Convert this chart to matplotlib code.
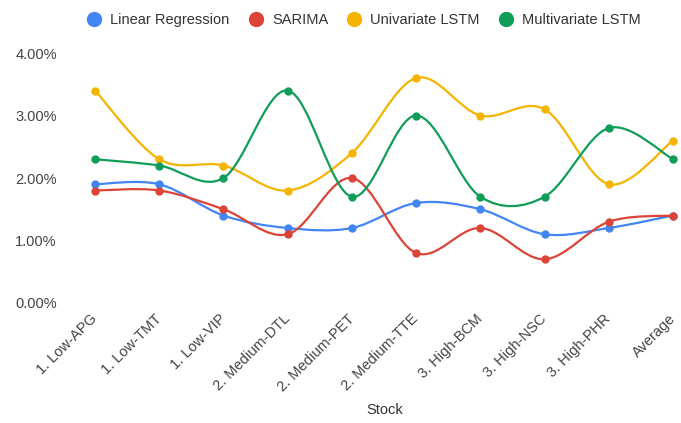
import matplotlib
matplotlib.use("Agg")
import matplotlib.pyplot as plt
import matplotlib.transforms as mtransforms
from matplotlib.path import Path
from matplotlib.patches import PathPatch
from matplotlib.lines import Line2D

plt.rcParams['font.family'] = ['Liberation Sans', 'DejaVu Sans']

stocks = ["1. Low-APG", "1. Low-TMT", "1. Low-VIP", "2. Medium-DTL", "2. Medium-PET",
          "2. Medium-TTE", "3. High-BCM", "3. High-NSC", "3. High-PHR", "Average"]
linear_reg = [1.9, 1.9, 1.4, 1.2, 1.2, 1.6, 1.5, 1.1, 1.2, 1.4]
sarima = [1.8, 1.8, 1.5, 1.1, 2.0, 0.8, 1.2, 0.7, 1.3, 1.4]
uni_lstm = [3.4, 2.3, 2.2, 1.8, 2.4, 3.6, 3.0, 3.1, 1.9, 2.6]
multi_lstm = [2.3, 2.2, 2.0, 3.4, 1.7, 3.0, 1.7, 1.7, 2.8, 2.3]
y_ticks = [0, 1, 2, 3, 4]

series = [("Linear Regression", linear_reg, "#4285F4"),
          ("SARIMA", sarima, "#DB4437"),
          ("Univariate LSTM", uni_lstm, "#F4B400"),
          ("Multivariate LSTM", multi_lstm, "#0F9D58")]


def smooth_path(xs, ys):
    # catmull-rom through the points, as cubic bezier segments
    verts = [(xs[0], ys[0])]
    codes = [Path.MOVETO]
    n = len(xs)
    for i in range(n - 1):
        x0, y0 = xs[max(i - 1, 0)], ys[max(i - 1, 0)]
        x1, y1 = xs[i], ys[i]
        x2, y2 = xs[i + 1], ys[i + 1]
        x3, y3 = xs[min(i + 2, n - 1)], ys[min(i + 2, n - 1)]
        c1 = (x1 + (x2 - x0) / 6, y1 + (y2 - y0) / 6)
        c2 = (x2 - (x3 - x1) / 6, y2 - (y3 - y1) / 6)
        verts += [c1, c2, (x2, y2)]
        codes += [Path.CURVE4] * 3
    return Path(verts, codes)


fig = plt.figure(figsize=(6.81, 4.23), dpi=100)
ax = fig.add_axes([79 / 681, 120 / 423, 602 / 681, 250 / 423])

x = list(range(len(stocks)))
handles = []
for name, vals, color in series:
    ax.add_patch(PathPatch(smooth_path(x, vals), facecolor='none', edgecolor=color,
                           lw=1.6, capstyle='round', joinstyle='round'))
    ax.plot(x, vals, 'o', color=color, markersize=5, zorder=3)
    handles.append(Line2D([], [], marker='o', ls='none', color=color, markersize=10, label=name))

ax.set_xlim(-0.25, 9.125)
ax.set_ylim(0, 4)
ax.set_yticks(y_ticks)
ax.set_yticklabels(["%.2f%%" % v for v in y_ticks])
ax.set_xticks(x)
ax.set_xticklabels(stocks, rotation=45, ha='right', va='center', rotation_mode='anchor')
off = mtransforms.ScaledTranslation(11 / 100, 0, fig.dpi_scale_trans)
for lab in ax.get_xticklabels():
    lab.set_transform(lab.get_transform() + off)
ax.tick_params(axis='both', length=0, labelsize=10.5, labelcolor='#444444')
ax.tick_params(axis='x', pad=10)
ax.tick_params(axis='y', pad=16)
for s in ax.spines.values():
    s.set_visible(False)

fig.text(385 / 681, 1 - 410 / 423, "Stock", ha='center', va='center', fontsize=10.5, color='#333333')

fig.legend(handles=handles, loc='center', bbox_to_anchor=(364 / 681, 1 - 20 / 423), ncol=4,
           frameon=False, fontsize=10.5, handletextpad=0.6, columnspacing=1.3,
           handlelength=1.0, labelcolor='#333333')

fig.savefig("out.png", dpi=100)
